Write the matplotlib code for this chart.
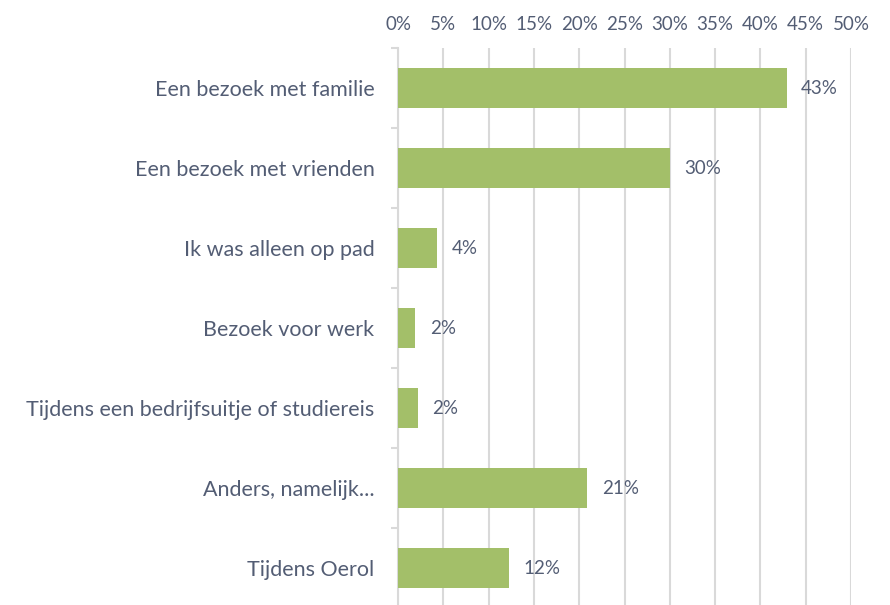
import numpy as np
import matplotlib.pyplot as plt

categories = [
    'Een bezoek met familie',
    'Een bezoek met vrienden',
    'Ik was alleen op pad',
    'Bezoek voor werk',
    'Tijdens een bedrijfsuitje of studiereis',
    'Anders, namelijk...',
    'Tijdens Oerol',
]
values = [42.9, 30.0, 4.3, 1.9, 2.2, 20.9, 12.3]
xticks = [0, 5, 10, 15, 20, 25, 30, 35, 40, 45, 50]

text_color = '#535d74'
bar_color = '#a3bf69'
grid_color = '#d9d9d9'

plt.rcParams['font.family'] = ['Lato', 'DejaVu Sans']

fig = plt.figure(figsize=(8.9, 6.05), dpi=100)
ax = fig.add_axes([398 / 890, -3 / 605, 453 / 890, 560 / 605])

y = np.arange(len(categories))
ax.barh(y, values, height=0.5, color=bar_color, zorder=3)

# value labels
for yi, v in zip(y, values):
    ax.text(v + 1.6, yi, f'{round(v):.0f}%', va='center', ha='left',
            fontsize=13.5, color=text_color, zorder=4)

ax.set_xlim(0, 50)
ax.set_ylim(len(categories) - 0.5, -0.5)
ax.set_xticks(xticks)
ax.set_xticklabels([f'{t}%' for t in xticks])
ax.xaxis.tick_top()
ax.tick_params(axis='x', length=0, pad=11, labelsize=13.5, labelcolor=text_color)
ax.xaxis.grid(True, color=grid_color, linewidth=1.5, zorder=0)

ax.set_yticks(y)
ax.set_yticklabels(categories)
ax.set_yticks(np.arange(-0.5, len(categories)), minor=True)
ax.tick_params(axis='y', which='major', length=0, pad=17, labelsize=15.5,
               labelcolor=text_color)
ax.tick_params(axis='y', which='minor', length=5, width=1.5, color=grid_color)

for side in ['top', 'right', 'bottom']:
    ax.spines[side].set_visible(False)
ax.spines['left'].set_color(grid_color)
ax.spines['left'].set_linewidth(1.5)

fig.savefig('out.png', dpi=100)
